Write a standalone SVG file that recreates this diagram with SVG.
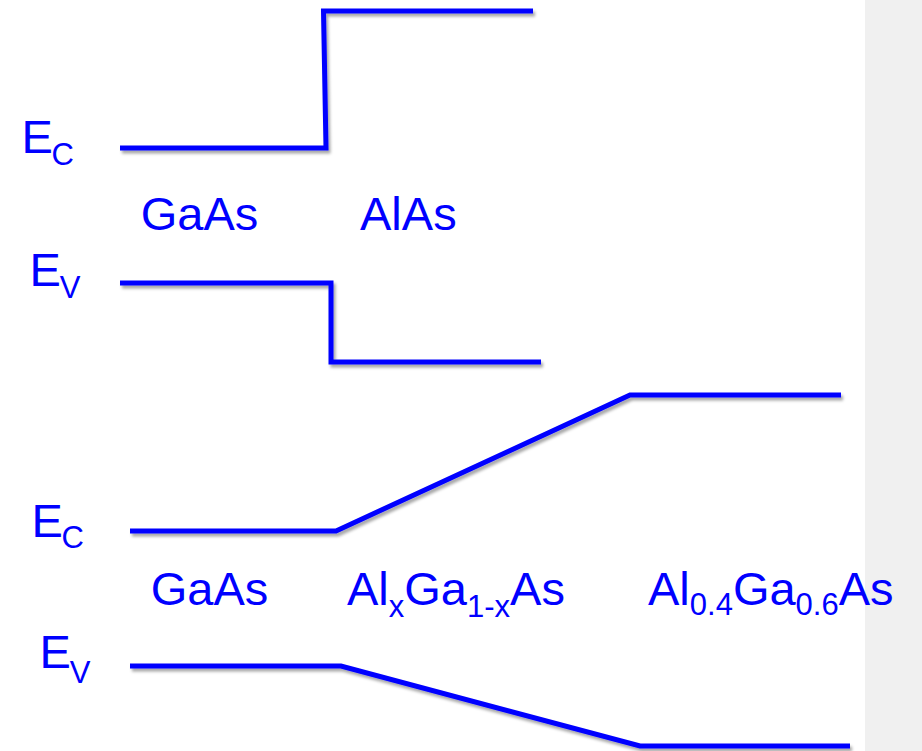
<svg xmlns="http://www.w3.org/2000/svg" width="922" height="751" viewBox="0 0 922 751">
  <defs>
    <filter id="shadow" x="-5%" y="-20%" width="110%" height="140%">
      <feDropShadow dx="2" dy="3" stdDeviation="1.5" flood-color="#000" flood-opacity="0.35"/>
    </filter>
    <style>
      .band { fill: none; stroke: #0000ff; stroke-width: 5; stroke-linejoin: miter; stroke-linecap: butt; filter: url(#shadow); }
      .lbl { font-family: "Liberation Sans", Arial, sans-serif; font-size: 47px; fill: #0000ff; }
      .sub { font-size: 31px; }
    </style>
  </defs>

  <rect x="0" y="0" width="922" height="751" fill="#ffffff"/>
  <rect x="865" y="0" width="57" height="751" fill="#f0f0f0"/>

  <!-- Abrupt GaAs / AlAs heterojunction -->
  <g id="abrupt-junction">
    <g id="abrupt-ec">
      <polyline class="band" points="120,148 326,148 323.5,11 533,11"/>
      <text class="lbl" x="21.5" y="153">E<tspan class="sub" x="51.5" y="164.5">C</tspan></text>
    </g>
    <g id="abrupt-ev">
      <polyline class="band" points="120,283 331,283 331,362 541,362"/>
      <text class="lbl" x="29.4" y="286">E<tspan class="sub" x="59.7" y="298">V</tspan></text>
    </g>
    <g id="abrupt-materials">
      <text class="lbl" x="140.8" y="230">GaAs</text>
      <text class="lbl" x="360" y="230">AlAs</text>
    </g>
  </g>

  <!-- Graded GaAs / AlxGa1-xAs / Al0.4Ga0.6As junction -->
  <g id="graded-junction">
    <g id="graded-ec">
      <polyline class="band" points="130,531 336,531 630,395 841,395"/>
      <text class="lbl" x="31.4" y="537">E<tspan class="sub" x="61.5" y="547.5">C</tspan></text>
    </g>
    <g id="graded-ev">
      <polyline class="band" points="130,666 341,666 640,746 850,746"/>
      <text class="lbl" x="39.4" y="668">E<tspan class="sub" x="69.7" y="682.5">V</tspan></text>
    </g>
    <g id="graded-materials">
      <text class="lbl" x="150.8" y="605">GaAs</text>
      <text class="lbl" x="347" y="605">Al<tspan class="sub" dy="12">x</tspan><tspan dy="-12">Ga</tspan><tspan class="sub" dy="12">1-x</tspan><tspan dy="-12">As</tspan></text>
      <text class="lbl" x="648" y="605">Al<tspan class="sub" dy="10">0.4</tspan><tspan dy="-10">Ga</tspan><tspan class="sub" dy="10">0.6</tspan><tspan dy="-10">As</tspan></text>
    </g>
  </g>
</svg>
